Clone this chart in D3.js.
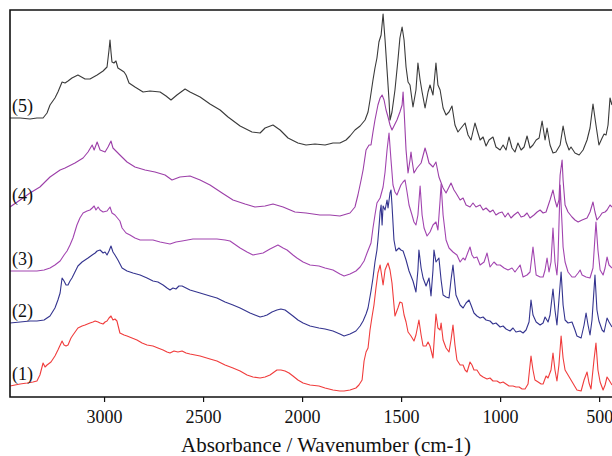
<!DOCTYPE html>
<html>
<head>
<meta charset="utf-8">
<script src="https://cdn.jsdelivr.net/npm/d3@7"></script>
<style>
  body { margin: 0; background: #fff; }
  svg { display: block; font-family: "Liberation Serif", "Times New Roman", serif; }
</style>
</head>
<body>
<svg id="chart"></svg>
<script>
// IR spectra, each point is [wavenumber cm-1, absorbance (stacked, a.u.)]
var spec1 = [[3475,0.11],[3424,0.13],[3389,0.14],[3359,0.15],[3339,0.16],[3324,0.22],[3308,0.34],[3298,0.30],[3288,0.32],[3268,0.35],[3248,0.41],[3233,0.47],[3212,0.56],[3202,0.52],[3192,0.51],[3182,0.52],[3167,0.59],[3157,0.62],[3132,0.69],[3111,0.71],[3096,0.72],[3071,0.74],[3056,0.75],[3045,0.76],[3030,0.75],[3020,0.74],[3005,0.73],[2995,0.75],[2985,0.76],[2975,0.79],[2965,0.81],[2955,0.77],[2945,0.78],[2935,0.76],[2920,0.64],[2899,0.62],[2884,0.61],[2859,0.59],[2834,0.57],[2808,0.54],[2783,0.52],[2753,0.51],[2728,0.49],[2702,0.47],[2682,0.45],[2667,0.44],[2647,0.46],[2627,0.45],[2606,0.46],[2586,0.44],[2566,0.43],[2515,0.41],[2465,0.38],[2430,0.36],[2389,0.32],[2349,0.29],[2313,0.26],[2278,0.22],[2248,0.20],[2212,0.19],[2187,0.20],[2162,0.22],[2127,0.27],[2107,0.27],[2086,0.26],[2066,0.24],[2046,0.21],[2021,0.17],[1995,0.14],[1960,0.12],[1915,0.11],[1884,0.09],[1844,0.07],[1809,0.06],[1788,0.06],[1758,0.07],[1728,0.09],[1713,0.12],[1697,0.17],[1687,0.36],[1677,0.45],[1667,0.49],[1657,0.67],[1647,0.80],[1637,0.92],[1627,1.09],[1617,1.24],[1606,1.32],[1596,1.19],[1591,1.12],[1581,1.27],[1571,1.32],[1566,1.34],[1556,1.27],[1546,1.14],[1536,0.92],[1531,0.81],[1516,0.89],[1506,0.95],[1495,0.94],[1485,0.82],[1475,0.75],[1465,0.65],[1450,0.61],[1435,0.56],[1425,0.62],[1410,0.77],[1399,0.62],[1389,0.51],[1374,0.51],[1364,0.55],[1354,0.51],[1339,0.39],[1324,0.83],[1314,0.69],[1303,0.67],[1298,0.74],[1288,0.57],[1273,0.49],[1258,0.45],[1248,0.57],[1238,0.72],[1228,0.52],[1218,0.37],[1202,0.32],[1187,0.32],[1177,0.27],[1167,0.25],[1152,0.35],[1142,0.32],[1132,0.27],[1117,0.27],[1101,0.22],[1086,0.20],[1066,0.18],[1051,0.19],[1036,0.16],[1016,0.16],[1000,0.14],[985,0.15],[970,0.13],[955,0.11],[935,0.11],[920,0.10],[904,0.10],[889,0.08],[874,0.08],[859,0.13],[844,0.41],[834,0.27],[824,0.17],[808,0.15],[793,0.13],[783,0.13],[768,0.21],[758,0.19],[743,0.27],[733,0.44],[723,0.27],[713,0.16],[703,0.32],[692,0.61],[682,0.39],[672,0.27],[657,0.22],[642,0.17],[627,0.12],[612,0.07],[591,0.06],[576,0.17],[561,0.25],[551,0.14],[541,0.08],[526,0.37],[516,0.54],[506,0.27],[495,0.15],[480,0.07],[470,0.12],[460,0.20],[450,0.17],[435,0.12]];

var spec2 = [[3475,0.74],[3424,0.75],[3374,0.76],[3339,0.76],[3303,0.77],[3273,0.81],[3248,0.89],[3233,0.97],[3222,1.04],[3212,1.19],[3202,1.16],[3192,1.12],[3182,1.12],[3172,1.16],[3162,1.19],[3147,1.25],[3132,1.31],[3111,1.35],[3096,1.37],[3081,1.39],[3060,1.42],[3045,1.44],[3035,1.46],[3020,1.47],[3005,1.44],[2995,1.45],[2985,1.42],[2975,1.46],[2965,1.51],[2955,1.45],[2945,1.42],[2930,1.37],[2909,1.29],[2884,1.26],[2854,1.24],[2818,1.22],[2783,1.19],[2753,1.16],[2728,1.15],[2702,1.12],[2682,1.09],[2667,1.07],[2652,1.09],[2637,1.08],[2622,1.11],[2606,1.11],[2586,1.09],[2566,1.07],[2515,1.04],[2465,1.01],[2430,0.99],[2389,0.95],[2349,0.92],[2313,0.89],[2263,0.84],[2238,0.82],[2212,0.80],[2192,0.81],[2177,0.82],[2152,0.85],[2127,0.87],[2107,0.88],[2086,0.87],[2066,0.84],[2046,0.81],[2021,0.77],[1995,0.74],[1960,0.71],[1915,0.69],[1884,0.68],[1844,0.66],[1809,0.63],[1788,0.61],[1758,0.63],[1728,0.66],[1707,0.71],[1692,0.76],[1677,0.83],[1667,0.89],[1652,1.06],[1642,1.19],[1632,1.35],[1622,1.47],[1617,1.57],[1612,1.69],[1606,1.85],[1601,1.92],[1596,1.72],[1591,1.91],[1581,1.87],[1571,1.97],[1566,1.89],[1556,2.04],[1551,2.07],[1546,1.92],[1536,1.57],[1526,1.46],[1511,1.49],[1501,1.47],[1490,1.46],[1475,1.37],[1460,1.26],[1440,1.16],[1425,1.05],[1415,1.27],[1410,1.47],[1399,1.29],[1389,1.19],[1374,1.11],[1359,1.19],[1349,1.01],[1339,1.27],[1334,1.47],[1324,1.35],[1309,1.39],[1298,1.17],[1288,1.02],[1273,1.00],[1258,0.99],[1248,1.17],[1238,1.32],[1228,1.12],[1223,1.02],[1202,0.92],[1187,0.89],[1172,0.94],[1157,0.97],[1147,0.92],[1132,0.84],[1117,0.81],[1101,0.79],[1086,0.80],[1071,0.77],[1051,0.76],[1036,0.73],[1021,0.74],[1000,0.70],[985,0.71],[970,0.68],[950,0.66],[935,0.69],[920,0.65],[899,0.66],[884,0.64],[869,0.67],[854,0.75],[844,0.97],[834,0.82],[818,0.75],[798,0.72],[783,0.74],[773,0.80],[758,0.75],[748,0.82],[733,1.08],[723,0.87],[713,0.72],[703,0.97],[692,1.25],[682,0.92],[672,0.77],[657,0.74],[637,0.75],[622,0.67],[612,0.61],[591,0.59],[576,0.72],[566,0.84],[556,0.72],[546,0.62],[536,0.77],[521,1.22],[511,0.87],[501,0.76],[485,0.67],[475,0.65],[460,0.79],[450,0.75],[435,0.70]];

var spec3 = [[3475,1.26],[3424,1.26],[3374,1.26],[3339,1.26],[3303,1.27],[3273,1.29],[3248,1.32],[3222,1.36],[3202,1.42],[3187,1.46],[3172,1.52],[3157,1.59],[3137,1.72],[3122,1.79],[3106,1.84],[3086,1.86],[3071,1.87],[3060,1.89],[3050,1.91],[3041,1.87],[3030,1.90],[3020,1.87],[3005,1.85],[2985,1.86],[2970,1.90],[2960,1.84],[2945,1.82],[2920,1.76],[2909,1.69],[2889,1.64],[2869,1.62],[2844,1.59],[2818,1.57],[2783,1.57],[2753,1.57],[2717,1.55],[2667,1.53],[2637,1.55],[2606,1.56],[2551,1.58],[2490,1.58],[2430,1.58],[2389,1.57],[2364,1.56],[2313,1.49],[2278,1.45],[2248,1.42],[2223,1.43],[2197,1.44],[2162,1.48],[2122,1.52],[2096,1.49],[2076,1.47],[2046,1.42],[2026,1.39],[1995,1.35],[1960,1.32],[1915,1.31],[1884,1.29],[1844,1.27],[1809,1.23],[1788,1.21],[1758,1.23],[1728,1.26],[1707,1.30],[1687,1.36],[1672,1.44],[1652,1.54],[1642,1.69],[1632,1.82],[1622,1.94],[1606,1.99],[1591,2.10],[1581,2.25],[1571,2.47],[1561,2.64],[1551,2.37],[1541,2.12],[1531,2.05],[1521,2.02],[1511,2.07],[1501,2.12],[1490,2.15],[1480,2.17],[1470,2.05],[1460,1.92],[1445,1.82],[1435,1.75],[1425,1.72],[1415,1.82],[1404,2.11],[1394,1.82],[1384,1.69],[1369,1.61],[1354,1.65],[1339,1.72],[1324,1.75],[1314,1.67],[1303,1.97],[1298,2.13],[1288,1.82],[1273,1.57],[1258,1.49],[1238,1.45],[1218,1.42],[1202,1.35],[1187,1.39],[1177,1.37],[1162,1.45],[1152,1.50],[1142,1.42],[1132,1.39],[1117,1.40],[1101,1.32],[1081,1.35],[1066,1.44],[1051,1.30],[1031,1.35],[1016,1.32],[1000,1.32],[980,1.29],[960,1.27],[940,1.29],[925,1.25],[910,1.29],[899,1.32],[884,1.20],[864,1.22],[849,1.25],[834,1.50],[818,1.22],[798,1.20],[783,1.20],[773,1.27],[763,1.39],[753,1.25],[743,1.35],[733,1.69],[723,1.35],[713,1.22],[708,1.37],[697,2.12],[687,1.72],[682,1.50],[672,1.35],[657,1.25],[637,1.20],[622,1.20],[606,1.24],[596,1.27],[586,1.22],[566,1.20],[546,1.19],[531,1.29],[516,1.75],[506,1.47],[495,1.27],[480,1.22],[470,1.29],[460,1.40],[450,1.32],[435,1.29]];

var spec4 = [[3475,1.90],[3424,1.97],[3374,2.04],[3324,2.10],[3273,2.20],[3222,2.27],[3197,2.29],[3147,2.34],[3106,2.39],[3081,2.45],[3060,2.52],[3050,2.47],[3035,2.55],[3020,2.47],[2995,2.45],[2980,2.50],[2965,2.56],[2955,2.49],[2935,2.45],[2920,2.42],[2884,2.35],[2844,2.30],[2793,2.27],[2743,2.25],[2692,2.22],[2657,2.17],[2617,2.20],[2566,2.21],[2515,2.17],[2465,2.12],[2404,2.04],[2349,1.97],[2288,1.93],[2238,1.90],[2187,1.91],[2147,1.93],[2096,1.90],[2036,1.85],[1980,1.84],[1910,1.82],[1859,1.82],[1809,1.81],[1758,1.84],[1733,1.90],[1718,2.02],[1702,2.17],[1692,2.27],[1677,2.47],[1662,2.52],[1652,2.52],[1642,2.65],[1632,2.77],[1617,2.92],[1606,2.99],[1596,3.02],[1586,2.97],[1576,2.87],[1566,2.80],[1556,2.72],[1546,2.67],[1536,2.71],[1521,2.77],[1506,2.85],[1495,2.92],[1490,3.05],[1485,2.87],[1475,2.47],[1465,2.24],[1455,2.37],[1450,2.45],[1445,2.37],[1435,2.24],[1420,2.29],[1399,2.34],[1379,2.49],[1369,2.42],[1359,2.34],[1349,2.32],[1339,2.30],[1324,2.35],[1309,2.20],[1288,2.09],[1273,2.04],[1248,2.14],[1233,2.07],[1223,2.04],[1202,1.97],[1187,1.99],[1172,1.92],[1152,1.90],[1137,1.94],[1122,1.90],[1101,1.92],[1086,1.87],[1071,1.89],[1051,1.85],[1036,1.87],[1021,1.82],[1006,1.84],[990,1.85],[975,1.80],[960,1.84],[945,1.79],[930,1.82],[910,1.85],[894,1.80],[879,1.81],[864,1.84],[849,1.79],[829,1.82],[813,1.85],[798,1.87],[783,1.84],[768,1.85],[748,1.97],[733,2.07],[723,1.97],[713,1.90],[703,1.97],[697,2.22],[687,2.37],[682,2.17],[672,1.92],[657,1.85],[637,1.80],[622,1.77],[606,1.75],[586,1.77],[561,1.79],[546,1.85],[531,1.95],[521,1.85],[511,1.77],[495,1.81],[485,1.84],[470,1.85],[460,1.87],[445,1.92],[435,1.90]];

var spec5 = [[3475,2.79],[3424,2.79],[3374,2.78],[3339,2.79],[3308,2.79],[3288,2.84],[3273,2.92],[3248,2.99],[3233,3.05],[3212,3.15],[3197,3.14],[3182,3.16],[3162,3.19],[3132,3.22],[3096,3.18],[3071,3.18],[3035,3.22],[3005,3.26],[2985,3.30],[2975,3.47],[2970,3.57],[2965,3.45],[2960,3.35],[2950,3.34],[2940,3.36],[2930,3.29],[2914,3.27],[2899,3.25],[2889,3.22],[2874,3.14],[2844,3.10],[2803,3.05],[2768,3.06],[2717,3.05],[2687,3.01],[2662,2.97],[2632,3.02],[2591,3.08],[2566,3.05],[2515,3.00],[2465,2.93],[2414,2.87],[2374,2.80],[2313,2.71],[2253,2.65],[2212,2.64],[2187,2.69],[2147,2.72],[2111,2.67],[2071,2.59],[2021,2.54],[1980,2.52],[1935,2.53],[1884,2.52],[1844,2.54],[1809,2.54],[1778,2.57],[1758,2.61],[1733,2.67],[1707,2.71],[1682,2.77],[1667,2.85],[1657,2.97],[1642,3.17],[1632,3.29],[1622,3.39],[1612,3.55],[1601,3.62],[1591,3.83],[1581,3.57],[1571,3.27],[1561,2.97],[1556,2.77],[1546,2.85],[1531,3.07],[1516,3.37],[1506,3.59],[1495,3.70],[1485,3.57],[1475,3.30],[1465,3.15],[1455,3.12],[1440,2.90],[1425,3.07],[1415,3.34],[1404,3.17],[1394,3.05],[1379,2.89],[1364,3.05],[1354,3.12],[1339,3.02],[1324,3.34],[1314,3.12],[1303,3.07],[1288,2.89],[1273,2.82],[1258,2.85],[1243,2.91],[1228,2.72],[1213,2.65],[1197,2.69],[1177,2.74],[1162,2.62],[1147,2.57],[1127,2.74],[1112,2.64],[1101,2.57],[1086,2.60],[1071,2.51],[1056,2.57],[1036,2.60],[1021,2.50],[1000,2.47],[985,2.52],[970,2.47],[955,2.60],[940,2.49],[925,2.45],[910,2.54],[894,2.47],[879,2.50],[864,2.61],[849,2.49],[834,2.52],[818,2.57],[803,2.59],[788,2.76],[773,2.57],[763,2.69],[748,2.52],[733,2.44],[718,2.45],[697,2.52],[682,2.71],[667,2.55],[652,2.47],[642,2.50],[622,2.44],[601,2.42],[581,2.47],[561,2.57],[546,2.69],[531,2.93],[516,2.72],[501,2.52],[485,2.59],[475,2.63],[465,2.62],[455,2.72],[445,2.99],[435,2.92]];

var seriesNames = ["(1)", "(2)", "(3)", "(4)", "(5)"];
var seriesColors = ["#f03c3c", "#34348f", "#a245b0", "#9c3fa8", "#3a3a3a"];
var tickValues = [3000, 2500, 2000, 1500, 1000, 500];
var xTitle = "Absorbance / Wavenumber (cm-1)";

var width = 612;
var height = 456;
// plot box edges (avoid the name "top", it is window.top)
var plotLeft = 10, plotTop = 10, plotBottom = 397, plotRight = 612;

var svg = d3.select("#chart").attr("width", width).attr("height", height);

// wavenumber axis runs high to low
var x = d3.scaleLinear().domain([3475, 435]).range([plotLeft, plotRight]);
var y = d3.scaleLinear().domain([0, 3.87]).range([plotBottom, plotTop]);

var allSpectra = [spec1, spec2, spec3, spec4, spec5];

var line = d3.line()
  .x(d => x(d[0]))
  .y(d => y(d[1]));

svg.append("clipPath").attr("id", "plotclip")
  .append("rect")
  .attr("x", plotLeft).attr("y", plotTop)
  .attr("width", plotRight - plotLeft).attr("height", plotBottom - plotTop);

svg.append("g")
  .attr("clip-path", "url(#plotclip)")
  .selectAll("path")
  .data(allSpectra)
  .enter()
  .append("path")
  .attr("fill", "none")
  .attr("stroke", (d, i) => seriesColors[i])
  .attr("stroke-width", 1.1)
  .attr("stroke-linejoin", "round")
  .attr("d", line);

// frame: left, top and bottom edges only (right edge is cut off)
svg.append("path")
  .attr("d", "M" + plotRight + "," + plotTop + "H" + plotLeft + "V" + plotBottom + "H" + plotRight)
  .attr("fill", "none")
  .attr("stroke", "#111")
  .attr("stroke-width", 1.6);

var xAxis = d3.axisBottom(x)
  .tickValues(tickValues)
  .tickFormat(d3.format("d"))
  .tickSizeInner(5)
  .tickSizeOuter(0)
  .tickPadding(8);

var gx = svg.append("g")
  .attr("transform", "translate(0," + plotBottom + ")")
  .call(xAxis);
gx.select(".domain").remove();
gx.selectAll(".tick line").attr("stroke", "#111").attr("stroke-width", 1.2);
gx.selectAll(".tick text")
  .attr("fill", "#111")
  .style("font-family", "'Liberation Serif', serif")
  .style("font-size", "18px");

svg.append("text")
  .attr("x", 326)
  .attr("y", 452)
  .attr("text-anchor", "middle")
  .attr("fill", "#111")
  .style("font-size", "21px")
  .text(xTitle);

// series labels sit just above the start of each trace
svg.selectAll(".slabel")
  .data(allSpectra)
  .enter()
  .append("text")
  .attr("class", "slabel")
  .attr("x", 12)
  .attr("y", d => y(d[0][1]) - 6)
  .attr("fill", "#111")
  .style("font-size", "18px")
  .text((d, i) => seriesNames[i]);
</script>
</body>
</html>
